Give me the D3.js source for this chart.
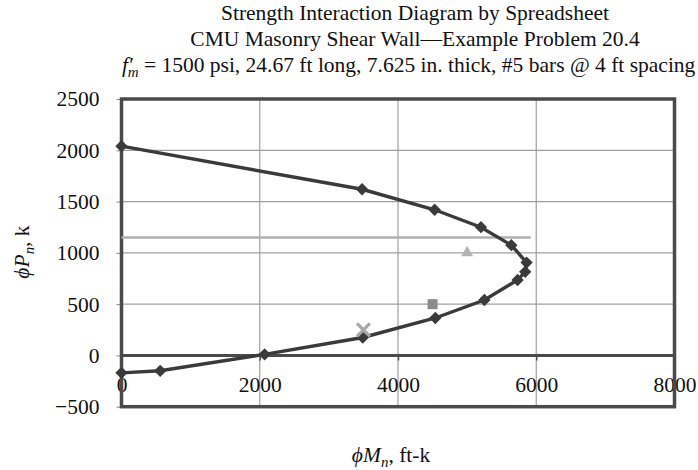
<!DOCTYPE html>
<html>
<head>
<meta charset="utf-8">
<script src="https://cdn.jsdelivr.net/npm/d3@7"></script>
<style>
  html, body { margin: 0; padding: 0; background: #fff; }
  svg { display: block; font-family: "Liberation Serif", "Times New Roman", serif; }
</style>
</head>
<body>
<svg id="chart" width="698" height="470"></svg>
<script>
// ---- data ----
const titleLines = ["Strength Interaction Diagram by Spreadsheet", "CMU Masonry Shear Wall\u2014Example Problem 20.4"];
const titleLine3 = " = 1500 psi, 24.67 ft long, 7.625 in. thick, #5 bars @ 4 ft spacing";
const curveMoment = [0, 3480, 4530, 5200, 5640, 5860, 5840, 5730, 5250, 4540, 3490, 2070, 560, 0];
const curveAxial  = [2040, 1620, 1420, 1250, 1075, 905, 815, 735, 540, 365, 175, 10, -150, -170];
const maxLineMoment = [0, 5920];
const maxLineAxial = [1150, 1150];
const squarePt = [4500, 500];
const trianglePt = [5000, 1000];
const crossPt = [3500, 250];
const xTicks = [0, 2000, 4000, 6000, 8000];
const yTicks = [-500, 0, 500, 1000, 1500, 2000, 2500];

// ---- layout ----
const svg = d3.select("#chart");
const L = 121.5, R = 674.5, T = 99, B = 406.7;
const x = d3.scaleLinear().domain([0, 8000]).range([L, R]);
const y = d3.scaleLinear().domain([-500, 2500]).range([B, T]);
const FS = 21.5;

// grid
const grid = svg.append("g");
grid.selectAll("line.v").data(xTicks.filter(d => d > 0 && d < 8000)).join("line")
  .attr("x1", d => x(d)).attr("x2", d => x(d)).attr("y1", T).attr("y2", B)
  .attr("stroke", "#a0a0a0").attr("stroke-width", 1.2);
grid.selectAll("line.h").data(yTicks.filter(d => d > -500 && d < 2500 && d !== 0)).join("line")
  .attr("x1", L).attr("x2", R).attr("y1", d => y(d)).attr("y2", d => y(d))
  .attr("stroke", "#a0a0a0").attr("stroke-width", 1.2);

// y axis
const yAxis = svg.append("g").attr("transform", `translate(${L},0)`)
  .call(d3.axisLeft(y).tickValues(yTicks).tickSizeInner(5).tickSizeOuter(0).tickPadding(17)
    .tickFormat(d => d < 0 ? "\u2212" + Math.abs(d) : String(d)));
yAxis.select(".domain").remove();
yAxis.selectAll("line").attr("stroke", "#888").attr("stroke-width", 1);
yAxis.selectAll("text").attr("font-size", FS).attr("fill", "#111")
  .attr("font-family", "Liberation Serif");

// zero line & x axis labels
const xAxis = svg.append("g").attr("transform", `translate(0,${y(0)})`)
  .call(d3.axisBottom(x).tickValues(xTicks).tickSizeInner(5).tickSizeOuter(0).tickPadding(16)
    .tickFormat(d => String(d)));
xAxis.select(".domain").remove();
xAxis.selectAll("line").attr("stroke", "#555").attr("stroke-width", 1.5);
xAxis.selectAll("text").attr("font-size", FS).attr("fill", "#111")
  .attr("font-family", "Liberation Serif");
svg.append("line").attr("x1", L).attr("x2", R).attr("y1", y(0)).attr("y2", y(0))
  .attr("stroke", "#4a4a4a").attr("stroke-width", 3);

// frame
svg.append("rect").attr("x", L).attr("y", T).attr("width", R - L).attr("height", B - T)
  .attr("fill", "none").attr("stroke", "#4a4a4a").attr("stroke-width", 3.5);

// max axial line
svg.append("path")
  .attr("d", d3.line().x(d => x(d[0])).y(d => y(d[1]))(d3.zip(maxLineMoment, maxLineAxial)))
  .attr("stroke", "#b0b0b0").attr("stroke-width", 2.5).attr("fill", "none");

// interaction curve
const curve = d3.zip(curveMoment, curveAxial);
svg.append("path")
  .attr("d", d3.line().x(d => x(d[0])).y(d => y(d[1]))(curve))
  .attr("stroke", "#3a3a3a").attr("stroke-width", 3.4).attr("fill", "none");
svg.selectAll("path.dia").data(curve).join("path")
  .attr("class", "dia")
  .attr("d", d3.symbol(d3.symbolSquare, 76)())
  .attr("transform", d => `translate(${x(d[0])},${y(d[1])}) rotate(45)`)
  .attr("fill", "#3a3a3a");

// other markers
svg.append("path")
  .attr("d", d3.symbol(d3.symbolSquare, 100)())
  .attr("transform", `translate(${x(squarePt[0])},${y(squarePt[1])})`)
  .attr("fill", "#8c8c8c");
svg.append("path")
  .attr("d", d3.symbol(d3.symbolTriangle, 64)())
  .attr("transform", `translate(${x(trianglePt[0])},${y(trianglePt[1])})`)
  .attr("fill", "#b4b4b4");
const cx = x(crossPt[0]), cy = y(crossPt[1]), s = 6.5;
svg.append("path")
  .attr("d", `M${cx - s},${cy - s}L${cx + s},${cy + s}M${cx - s},${cy + s}L${cx + s},${cy - s}`)
  .attr("stroke", "#a8a8a8").attr("stroke-width", 3.2).attr("fill", "none");

// title
svg.selectAll("text.title").data(titleLines).join("text")
  .attr("class", "title")
  .attr("x", 415).attr("y", (d, i) => 20 + i * 26)
  .attr("text-anchor", "middle").attr("font-size", FS).attr("fill", "#111")
  .text(d => d);
const t3 = svg.append("text").attr("x", 122).attr("y", 72).attr("font-size", FS).attr("fill", "#111");
t3.append("tspan").attr("font-style", "italic").text("f\u2032");
t3.append("tspan").attr("font-style", "italic").attr("font-size", 15).attr("dx", -5).attr("dy", 5).text("m");
t3.append("tspan").attr("dy", -5).text(titleLine3);

// axis titles
const xl = svg.append("text").attr("x", 391).attr("y", 462).attr("text-anchor", "middle")
  .attr("font-size", FS).attr("fill", "#111");
xl.append("tspan").attr("font-style", "italic").text("\u03D5M");
xl.append("tspan").attr("font-style", "italic").attr("font-size", 15).attr("dy", 5).text("n");
xl.append("tspan").attr("dy", -5).text(", ft-k");

const yl = svg.append("text").attr("transform", "translate(29,252) rotate(-90)")
  .attr("text-anchor", "middle").attr("font-size", FS).attr("fill", "#111");
yl.append("tspan").attr("font-style", "italic").text("\u03D5P");
yl.append("tspan").attr("font-style", "italic").attr("font-size", 15).attr("dy", 5).text("n");
yl.append("tspan").attr("dy", -5).text(", k");
</script>
</body>
</html>
